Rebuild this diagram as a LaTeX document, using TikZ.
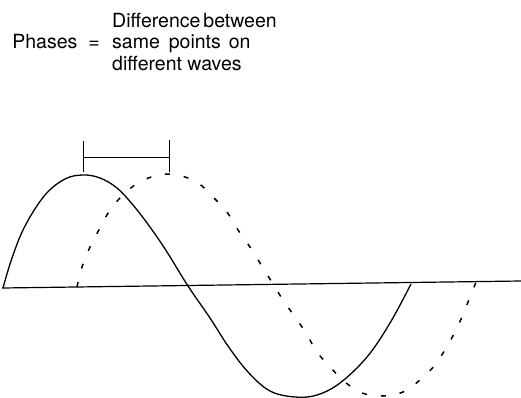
\documentclass[tikz,border=0pt]{standalone}
\usepackage{fontspec}
\setmainfont{TeX Gyre Heros}
\usetikzlibrary{positioning}

\begin{document}
\begin{tikzpicture}[x=1pt,y=-1pt,every node/.style={inner sep=0pt,font=\fontsize{19.5}{23}\selectfont}]
  \tikzstyle{TextStyle}=[anchor=base west]
  \tikzstyle{WaveStyle}=[line width=1.3pt, line join=round]
  \tikzstyle{ShiftStyle}=[line width=1.5pt, dash pattern=on 5pt off 14pt]
  \useasboundingbox (0,0) rectangle (521,398);

  % labels
  \node[TextStyle] (diff) at (112,28) {Difference\hspace{3pt}between};
  \node[TextStyle] (same) at (112,49) {same\hspace{9pt}points\hspace{8pt}on};
  \node[TextStyle] (dwav) at (112,71) {different waves};
  \node[anchor=base east] (phases) at ([xshift=-12pt]same.base west) {Phases\hspace{11pt}=};

  % axis
  \coordinate (ax1) at (2,288);
  \coordinate (ax2) at (521,281);
  \draw[line width=1.2pt] (ax1) -- (ax2);

  % first wave
  \draw[WaveStyle] plot[smooth, tension=0.6] coordinates {
    (3,288) (12,258) (25,226) (45,195) (65,179) (83,175) (100,178)
    (117,188) (133,205) (150,227) (167,252) (188,286) (210,318) (228,346)
    (248,372) (270,391) (295,397) (317,395) (340,383) (367,357) (390,323) (411,284)};

  % second wave, shifted
  \draw[ShiftStyle] plot[smooth, tension=0.6] coordinates {
    (77,287) (82,267) (90,247) (100,228) (110,210) (123,195) (138,183) (158,175)
    (178,175) (198,183) (213,197) (227,212) (238,230) (250,247) (260,263)
    (273,284) (283,300) (295,317) (306,333) (317,352) (331,368) (345,382)
    (362,393) (383,396) (403,392) (420,380) (435,365) (446,348) (456,330)
    (464,312) (472,292) (476,282)};

  % phase difference bracket
  \coordinate (pk1) at (83,172);
  \coordinate (pk2) at (169,172);
  \coordinate (tp1) at (83,141);
  \coordinate (tp2) at (169,140);
  \draw[line width=0.9pt] (pk1) -- (tp1);
  \draw[line width=0.9pt] (pk2) -- (tp2);
  \draw[line width=0.9pt] (83,157) -- (169,157);
\end{tikzpicture}
\end{document}
